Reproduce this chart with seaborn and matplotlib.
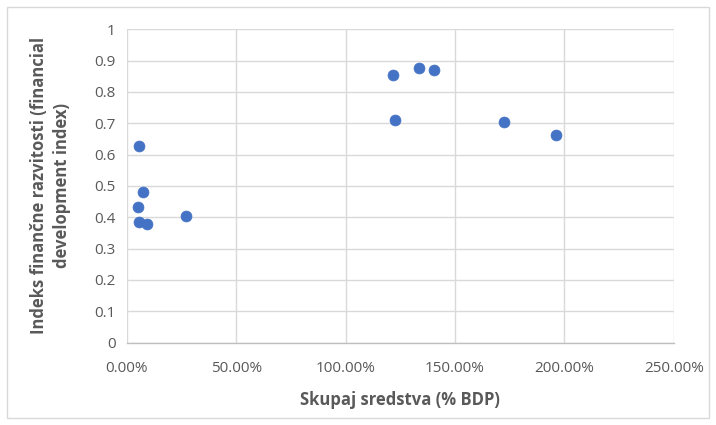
import matplotlib
matplotlib.use("Agg")
import matplotlib.pyplot as plt
import matplotlib.ticker as mticker
from matplotlib.patches import Rectangle
import seaborn as sns
import pandas as pd

# Total assets (% of GDP) and financial development index per country
skupaj_sredstva = [5.5, 7.5, 5.2, 5.4, 9.1, 26.9, 121.8, 133.7, 140.3, 122.5, 172.6, 196.2]
indeks_fd = [0.628, 0.480, 0.434, 0.386, 0.378, 0.403, 0.854, 0.878, 0.871, 0.711, 0.704, 0.663]

x_ticks = [0, 50, 100, 150, 200, 250]
y_ticks = [0, 0.1, 0.2, 0.3, 0.4, 0.5, 0.6, 0.7, 0.8, 0.9, 1.0]

df = pd.DataFrame({"sredstva": skupaj_sredstva, "indeks": indeks_fd})

sns.set_theme(style="white")
plt.rcParams["font.family"] = ["Open Sans", "DejaVu Sans"]

fig = plt.figure(figsize=(7.16, 4.25), dpi=100)
ax = fig.add_axes([0.177, 0.194, 0.764, 0.737])

sns.scatterplot(data=df, x="sredstva", y="indeks", ax=ax, color="#4472C4",
                s=62, edgecolor="#4472C4", linewidth=0.5, zorder=3)

ax.set_xlim(0, 250)
ax.set_ylim(0, 1)
ax.set_xticks(x_ticks)
ax.set_yticks(y_ticks)
ax.xaxis.set_major_formatter(mticker.FuncFormatter(lambda v, p: f"{v:.2f}%"))
ax.yaxis.set_major_formatter(mticker.FuncFormatter(lambda v, p: f"{v:g}"))
ax.grid(True, color="#d9d9d9", linewidth=1)
ax.set_axisbelow(True)
for side in ["top", "right", "left"]:
    ax.spines[side].set_visible(False)
ax.spines["bottom"].set_color("#bfbfbf")
ax.spines["bottom"].set_linewidth(1)
ax.tick_params(axis="both", length=0, labelsize=11, labelcolor="#595959")
ax.tick_params(axis="x", pad=13)
ax.tick_params(axis="y", pad=8)

ax.set_xlabel("Skupaj sredstva (% BDP)", fontsize=12, fontweight="bold",
              color="#595959", labelpad=11)
ax.set_ylabel("Indeks finančne razvitosti (financial\ndevelopment index)",
              fontsize=12, fontweight="bold", color="#595959", labelpad=17,
              linespacing=1.35)

# light chart-area border
fig.patches.append(Rectangle((7 / 716, 7 / 425), 1 - 14 / 716, 1 - 14 / 425,
                             transform=fig.transFigure, fill=False,
                             edgecolor="#d9d9d9", linewidth=1))

fig.savefig("out.png", dpi=100)
